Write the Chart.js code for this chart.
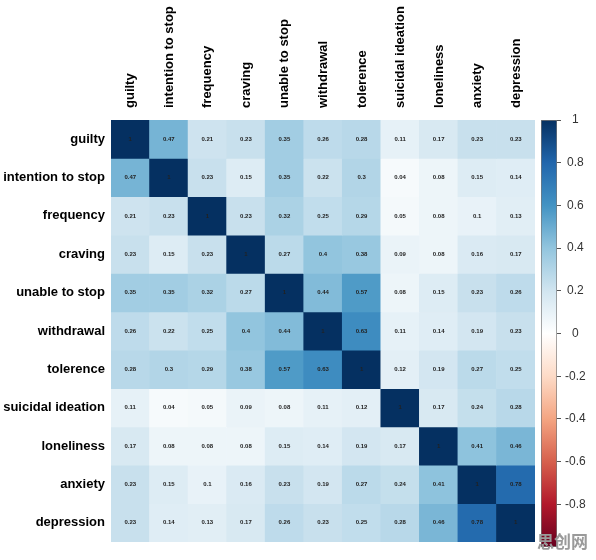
<!DOCTYPE html>
<html>
<head>
<meta charset="utf-8">
<script src="https://cdn.jsdelivr.net/npm/chart.js@4/dist/chart.umd.min.js"></script>
<style>
  html, body { margin: 0; padding: 0; background: #fff; }
  #wrap { position: relative; width: 596px; height: 560px; }
  #main { position: absolute; left: 0; top: 0; }
  #bar { position: absolute; left: 530px; top: 0; }
  #mark { position: absolute; left: 537px; top: 528px; font: bold 17px "Noto Sans CJK SC", sans-serif; color: #9a9a9a; letter-spacing: 0px; }
</style>
</head>
<body>
<div id="wrap">
  <canvas id="main" width="596" height="560"></canvas>
  <canvas id="bar" width="66" height="560"></canvas>
  <div id="mark">思创网</div>
</div>
<script>
// ---- data ----
const variables = ["guilty", "intention to stop", "frequency", "craving", "unable to stop", "withdrawal", "tolerence", "suicidal ideation", "loneliness", "anxiety", "depression"];
const guilty          = [1, 0.47, 0.21, 0.23, 0.35, 0.26, 0.28, 0.11, 0.17, 0.23, 0.23];
const intentionToStop = [0.47, 1, 0.23, 0.15, 0.35, 0.22, 0.3, 0.04, 0.08, 0.15, 0.14];
const frequency       = [0.21, 0.23, 1, 0.23, 0.32, 0.25, 0.29, 0.05, 0.08, 0.1, 0.13];
const craving         = [0.23, 0.15, 0.23, 1, 0.27, 0.4, 0.38, 0.09, 0.08, 0.16, 0.17];
const unableToStop    = [0.35, 0.35, 0.32, 0.27, 1, 0.44, 0.57, 0.08, 0.15, 0.23, 0.26];
const withdrawal      = [0.26, 0.22, 0.25, 0.4, 0.44, 1, 0.63, 0.11, 0.14, 0.19, 0.23];
const tolerence       = [0.28, 0.3, 0.29, 0.38, 0.57, 0.63, 1, 0.12, 0.19, 0.27, 0.25];
const suicidal        = [0.11, 0.04, 0.05, 0.09, 0.08, 0.11, 0.12, 1, 0.17, 0.24, 0.28];
const loneliness      = [0.17, 0.08, 0.08, 0.08, 0.15, 0.14, 0.19, 0.17, 1, 0.41, 0.46];
const anxiety         = [0.23, 0.15, 0.1, 0.16, 0.23, 0.19, 0.27, 0.24, 0.41, 1, 0.78];
const depression      = [0.23, 0.14, 0.13, 0.17, 0.26, 0.23, 0.25, 0.28, 0.46, 0.78, 1];
const matrixRows = [guilty, intentionToStop, frequency, craving, unableToStop, withdrawal, tolerence, suicidal, loneliness, anxiety, depression];
const colorbarTicks = [1, 0.8, 0.6, 0.4, 0.2, 0, -0.2, -0.4, -0.6, -0.8];

// ---- palette (RdBu, corrplot style), from +1 down to -1 ----
const palette = ["#053061","#2166AC","#4393C3","#92C5DE","#D1E5F0","#FFFFFF","#FDDBC7","#F4A582","#D6604D","#B2182B","#67001F"];
function hex2rgb(h){ return [parseInt(h.slice(1,3),16), parseInt(h.slice(3,5),16), parseInt(h.slice(5,7),16)]; }
function colorFor(v){
  const t = (1 - v) / 2 * (palette.length - 1);
  const i = Math.min(Math.floor(t), palette.length - 2);
  const f = t - i;
  const a = hex2rgb(palette[i]), b = hex2rgb(palette[i+1]);
  const c = a.map((x,k)=>Math.round(x + (b[k]-x)*f));
  return `rgb(${c[0]},${c[1]},${c[2]})`;
}

const FONT = "'Liberation Sans', Arial, sans-serif";

const cellText = {
  id: 'cellText',
  afterDatasetsDraw(chart){
    const ctx = chart.ctx;
    ctx.save();
    ctx.font = "bold 6px " + FONT;
    ctx.fillStyle = "#222";
    ctx.textAlign = "center";
    ctx.textBaseline = "middle";
    chart.data.datasets.forEach((ds, di) => {
      const meta = chart.getDatasetMeta(di);
      meta.data.forEach((el, j) => {
        const p = el.getCenterPoint();
        ctx.fillText(String(ds.values[j]), p.x, p.y);
      });
    });
    ctx.restore();
  }
};

const datasets = matrixRows.map((row, r) => ({
  label: variables[r],
  values: row,
  data: row.map(() => [r, r + 1]),
  backgroundColor: row.map(colorFor),
  borderWidth: 0,
  grouped: false,
  barPercentage: 1,
  categoryPercentage: 1
}));

new Chart(document.getElementById('main'), {
  type: 'bar',
  data: { labels: variables, datasets },
  options: {
    responsive: false,
    animation: false,
    events: [],
    layout: { padding: { left: 0, right: 61, top: 0, bottom: 18 } },
    plugins: { legend: { display: false }, tooltip: { enabled: false } },
    scales: {
      x: {
        position: 'top',
        grid: { display: false, drawTicks: false },
        border: { display: false },
        ticks: {
          autoSkip: false, minRotation: 90, maxRotation: 90, padding: 12, labelOffset: 16,
          color: '#000', font: { family: FONT, size: 13, weight: 'bold' }
        },
        afterFit(s){ s.height = 120; }
      },
      y: {
        type: 'linear', min: 0, max: 11, reverse: true,
        grid: { display: false, drawTicks: false },
        border: { display: false },
        afterBuildTicks(s){ s.ticks = variables.map((_, i) => ({ value: i + 0.5 })); },
        ticks: {
          padding: 6, color: '#000', font: { family: FONT, size: 13, weight: 'bold' },
          callback: (v, i) => variables[i]
        },
        afterFit(s){ s.width = 111; }
      }
    }
  },
  plugins: [cellText]
});

new Chart(document.getElementById('bar'), {
  type: 'bar',
  data: {
    labels: [''],
    datasets: [{
      data: [[-1, 1]],
      barPercentage: 1, categoryPercentage: 1,
      borderWidth: 1, borderColor: '#777', borderSkipped: false,
      backgroundColor(ctx){
        const a = ctx.chart.chartArea;
        if (!a) return '#fff';
        const g = ctx.chart.ctx.createLinearGradient(0, a.top, 0, a.bottom);
        palette.forEach((c, i) => g.addColorStop(i / (palette.length - 1), c));
        return g;
      }
    }]
  },
  options: {
    responsive: false,
    animation: false,
    events: [],
    layout: { padding: { left: 11, right: 0, top: 120, bottom: 13 } },
    plugins: { legend: { display: false }, tooltip: { enabled: false } },
    scales: {
      x: { display: false },
      y: {
        position: 'right', min: -1, max: 1,
        afterBuildTicks(s){ s.ticks = colorbarTicks.map(v => ({ value: v })); },
        grid: { drawOnChartArea: false, drawTicks: true, tickLength: 4, color: '#555' },
        border: { display: false },
        ticks: {
          padding: 4, color: '#333', crossAlign: 'center',
          font: { family: FONT, size: 12 },
          callback: (v) => String(Number(v.toFixed(1)))
        },
        afterFit(s){ s.width = 39; }
      }
    }
  }
});
</script>
</body>
</html>
